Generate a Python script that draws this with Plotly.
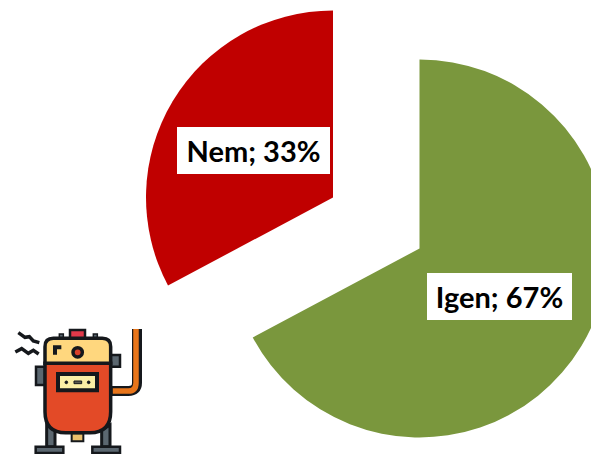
import plotly.graph_objects as go

categories = ["Igen", "Nem"]
values = [67.2, 32.8]
percent_labels = ["67%", "33%"]

W, H = 620, 454
GREEN = "#7A973D"
RED = "#C00000"
CLEAR = "rgba(0,0,0,0)"
DARK = "#15181C"


def dom(x0, x1, y0, y1):
    return dict(x=[x0 / W, x1 / W], y=[1 - y1 / H, 1 - y0 / H])


def pie(colors, domain):
    return go.Pie(
        labels=categories, values=values, sort=False, direction="clockwise",
        rotation=0, textinfo="none", showlegend=False, domain=domain,
        marker=dict(colors=colors, line=dict(width=0)),
    )


fig = go.Figure([
    pie([GREEN, CLEAR], dom(230.5, 608.5, 59.5, 437.5)),
    pie([CLEAR, RED], dom(146, 520, 10, 385)),
])


def pt(x, y):
    return f"{x / 3 / W:.5f},{1 - (320 + y / 3) / H:.5f}"


def path(cmds):
    out = []
    for c in cmds:
        if isinstance(c, str):
            out.append(c)
        else:
            out.append(pt(*c))
    return " ".join(out)


shapes = []


def add_path(cmds, fill=None, line=DARK, lw=2.5):
    shapes.append(dict(type="path", xref="paper", yref="paper", path=path(cmds),
                       fillcolor=fill or CLEAR,
                       line=dict(color=line, width=lw)))


def rect(x0, y0, x1, y1, fill, line=DARK, lw=2.5):
    add_path(["M", (x0, y0), "L", (x1, y0), "L", (x1, y1), "L", (x0, y1), "Z"], fill, line, lw)


def circle(cx, cy, r, fill, lw=2):
    shapes.append(dict(type="circle", xref="paper", yref="paper",
                       x0=(cx - r) / 3 / W, x1=(cx + r) / 3 / W,
                       y0=1 - (320 + (cy + r) / 3) / H, y1=1 - (320 + (cy - r) / 3) / H,
                       fillcolor=fill, line=dict(color=DARK, width=lw)))


SLATE = "#5B6770"
# pipe
add_path(["M", (335, 213), "L", (385, 213), "Q", (411, 213), (411, 188), "L", (411, 27)], None, DARK, 10)
add_path(["M", (338, 213), "L", (385, 213), "Q", (408, 213), (408, 188), "L", (408, 27)], None, "#E8751A", 5.5)
# legs and feet
add_path(["M", (140, 315), "L", (165, 330), "L", (165, 380), "L", (140, 380), "Z"], SLATE, lw=3)
add_path(["M", (330, 315), "L", (305, 330), "L", (305, 380), "L", (330, 380), "Z"], SLATE, lw=3)
rect(107, 380, 190, 399, SLATE)
rect(277, 380, 360, 399, SLATE)
# side handles
rect(108, 140, 135, 195, SLATE)
rect(332, 105, 360, 140, SLATE)
# top cap, bolts
rect(210, 30, 255, 56, "#E0394A")
rect(178, 42, 190, 58, SLATE, lw=1.5)
rect(280, 42, 292, 58, SLATE, lw=1.5)
# nozzle
rect(215, 340, 250, 364, "#EBC06C", lw=2)
# body
add_path(["M", (135, 130), "L", (332, 130), "L", (332, 275),
          "Q", (332, 338), (270, 338), "L", (197, 338),
          "Q", (135, 338), (135, 275), "Z"], "#E34A27", lw=3.5)
# boiler head
add_path(["M", (135, 130), "L", (135, 80), "Q", (135, 55), (160, 55), "L", (307, 55),
          "Q", (332, 55), (332, 80), "L", (332, 130), "Z"], "#FFD77E", lw=3.5)
add_path(["M", (165, 104), "L", (165, 82), "L", (184, 82)], None, DARK, 4)
circle(233, 97, 14, "#D8402A", 3.5)
# gauge
rect(174, 162, 291, 211, "#FBEFA5", lw=4)
circle(199, 187, 4, DARK, 1)
circle(266, 187, 4, DARK, 1)
rect(222, 183, 245, 191, "#5B5B50", lw=1)
# heat squiggles
add_path(["M", (55, 38), "L", (75, 52), "L", (88, 50), "L", (100, 63), "L", (118, 68)], None, DARK, 3.5)
add_path(["M", (46, 96), "L", (65, 86), "L", (85, 100), "L", (100, 91), "L", (116, 102)], None, DARK, 3.5)

fig.update_layout(
    width=W, height=H, margin=dict(l=0, r=0, t=0, b=0),
    paper_bgcolor="white", plot_bgcolor="white", shapes=shapes,
)


def label(i, x0, x1, y0, y1):
    fig.add_annotation(
        text=f"<b>{categories[i]}; {percent_labels[i]}</b>",
        xref="paper", yref="paper", x=(x0 + x1) / 2 / W, y=1 - (y0 + y1) / 2 / H,
        xanchor="center", yanchor="middle", showarrow=False,
        width=x1 - x0, height=y1 - y0, borderpad=0, borderwidth=0, bgcolor="white",
        font=dict(family="Lato", size=29, color="#000000"),
    )


label(1, 177, 330, 127, 174)
label(0, 427, 572, 273, 320)

fig.write_html(
    "out.html",
    include_plotlyjs=True,
    config={"displayModeBar": False},
    post_script="document.documentElement.style.overflow='hidden';document.body.style.overflow='hidden';document.body.style.margin='0';",
)
